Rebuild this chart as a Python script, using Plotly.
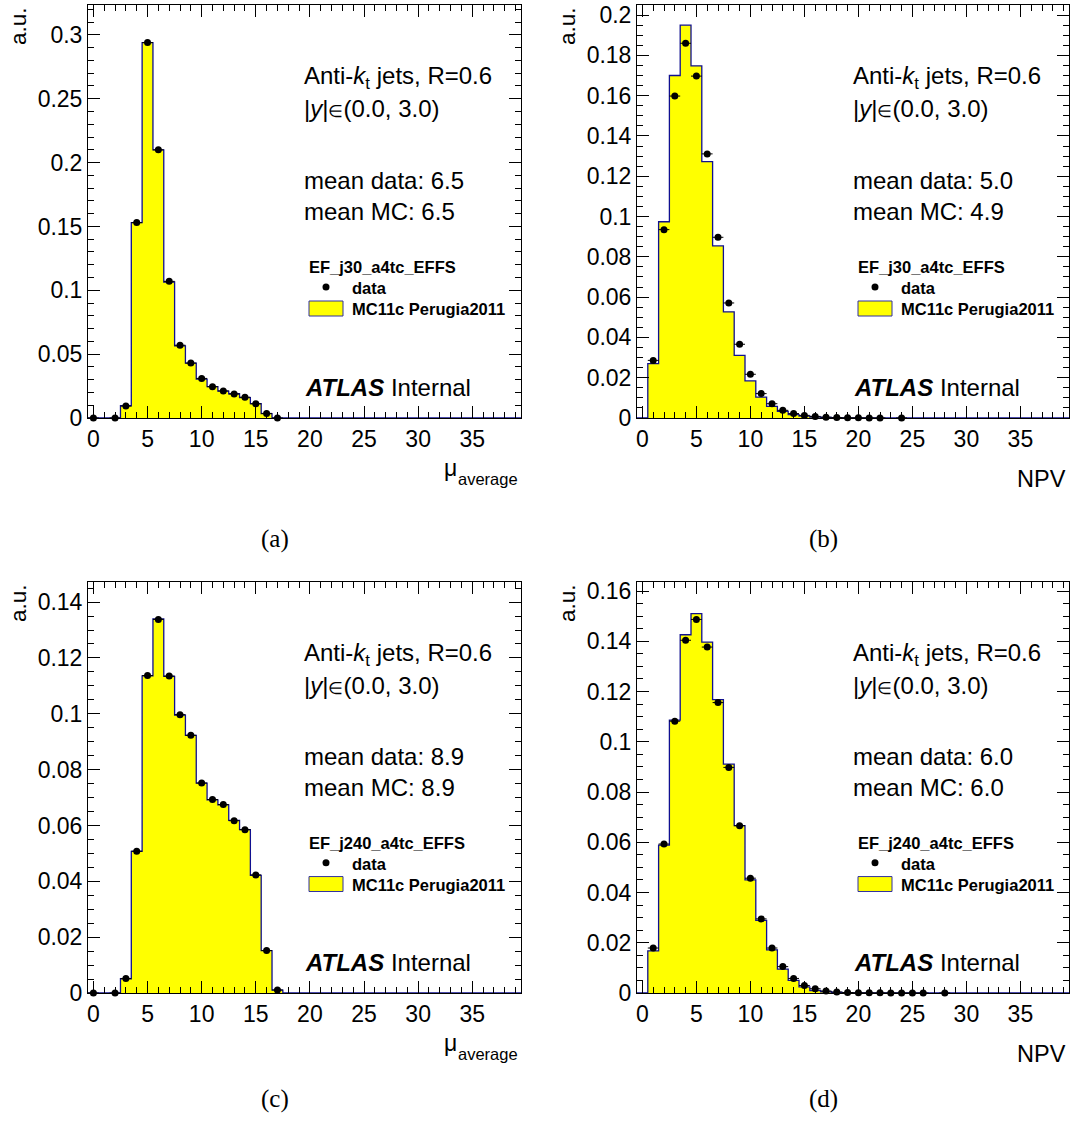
import plotly.graph_objects as go

# ---------------- data (bin centres 0..39, width 1) ----------------
bin_centers = list(range(40))

mc_a = [0, 0, 0, 0.0096, 0.153, 0.294, 0.210, 0.1065, 0.0565, 0.043, 0.0305,
        0.0245, 0.021, 0.019, 0.016, 0.0112, 0.0035]
data_a = [0, None, 0, 0.0094, 0.153, 0.294, 0.210, 0.107, 0.057, 0.043, 0.031,
          0.0245, 0.0212, 0.0188, 0.0163, 0.0111, 0.0036, 0]

mc_b = [0, 0.027, 0.0974, 0.170, 0.195, 0.1748, 0.1273, 0.0854, 0.0527, 0.0311,
        0.0184, 0.0104, 0.0058, 0.0033, 0.0017, 0.0009, 0.0005, 0.0003, 0.0002,
        0.0001, 0.00005, 0.00003]
data_b = [None, 0.0286, 0.0935, 0.1598, 0.186, 0.1697, 0.1311, 0.0897, 0.0571,
          0.0366, 0.0217, 0.0121, 0.0071, 0.0038, 0.0022, 0.0013, 0.0008, 0.0004,
          0.0002, 0.0001, 0.0001, 0.00005, 0.00003, None, 0.00001]

mc_c = [0, 0, 0, 0.0051, 0.0507, 0.1136, 0.134, 0.1134, 0.0995, 0.0923, 0.0752,
        0.0692, 0.0674, 0.0618, 0.0585, 0.0421, 0.0152, 0.001]
data_c = [0, None, 0, 0.0052, 0.0508, 0.1137, 0.1338, 0.1135, 0.0997, 0.0923,
          0.0752, 0.0693, 0.0675, 0.0617, 0.0585, 0.0423, 0.0152, 0.0011]

mc_d = [0, 0.0168, 0.0589, 0.1086, 0.1426, 0.151, 0.1397, 0.1168, 0.0911, 0.0666,
        0.045, 0.0289, 0.0172, 0.0095, 0.005, 0.0024, 0.001, 0.0005, 0.0002,
        0.0001, 0.00005]
data_d = [None, 0.0179, 0.0593, 0.1082, 0.1404, 0.1487, 0.1377, 0.1156, 0.0898,
          0.0666, 0.0457, 0.0295, 0.0179, 0.0105, 0.0058, 0.003, 0.0017, 0.0008,
          0.0004, 0.0002, 0.0001, 0.00008, 0.00005, 0.00003, 0.00002, 0.00001,
          0.00001, None, 0.00001]

triggers = ["EF_j30_a4tc_EFFS", "EF_j30_a4tc_EFFS", "EF_j240_a4tc_EFFS", "EF_j240_a4tc_EFFS"]
mean_data = ["6.5", "5.0", "8.9", "6.0"]
mean_mc = ["6.5", "4.9", "8.9", "6.0"]
x_titles = ["mu", "NPV", "mu", "NPV"]
panel_tags = ["(a)", "(b)", "(c)", "(d)"]
y_ranges = [0.3234, 0.2050, 0.1472, 0.1636]
y_dticks = [0.05, 0.02, 0.02, 0.02]
y_minor = [0.01, 0.005, 0.005, 0.005]

mc_all = [mc_a, mc_b, mc_c, mc_d]
data_all = [data_a, data_b, data_c, data_d]

# ---------------- layout geometry (pixels) ----------------
W, H = 1072, 1129
frames = [(88, 521, 5, 418), (637, 1069, 5, 418),
          (88, 521, 582, 993), (637, 1069, 582, 993)]
tag_pos = [(274.5, 539), (823.5, 539), (274.5, 1099), (823.5, 1099)]

SANS = "Liberation Sans, Arial, Helvetica, sans-serif"
SERIF = "Liberation Serif, Times New Roman, serif"
YELLOW = "#ffff00"
NAVY = "#101090"


def px(x):
    return x / W


def py(y):
    return 1 - y / H


fig = go.Figure()
annotations = []
shapes = []


def add_text(x, baseline, text, size, xanchor="left", family=SANS, color="black"):
    top = baseline - 0.905 * size - 1
    annotations.append(dict(x=px(x), y=py(top), xref="paper", yref="paper",
                            text=text, showarrow=False, xanchor=xanchor, yanchor="top",
                            font=dict(family=family, size=size, color=color)))


edges = [c - 0.5 for c in bin_centers] + [bin_centers[-1] + 0.5]

for i in range(4):
    fl, fr, ft, fb = frames[i]
    hgt = fb - ft
    sfx = "" if i == 0 else str(i + 1)
    xa, ya = "x" + sfx, "y" + sfx

    mc = mc_all[i] + [0] * (40 - len(mc_all[i]))
    fig.add_trace(go.Scatter(x=edges, y=mc + [mc[-1]], mode="lines",
                             line=dict(shape="hv", color=NAVY, width=1.3),
                             fill="tozeroy", fillcolor=YELLOW, xaxis=xa, yaxis=ya,
                             showlegend=False, hoverinfo="skip"))
    dx = [bin_centers[k] for k, v in enumerate(data_all[i]) if v is not None]
    dy = [v for v in data_all[i] if v is not None]
    fig.add_trace(go.Scatter(x=dx, y=dy, mode="markers",
                             marker=dict(color="black", size=7),
                             error_x=dict(type="constant", value=0.5, thickness=1,
                                          width=0, color="black"),
                             cliponaxis=False, xaxis=xa, yaxis=ya, showlegend=False))

    fig.layout["xaxis" + sfx] = dict(
        domain=[px(fl), px(fr)], anchor=ya, range=[-0.5, 39.5], dtick=5,
        minor=dict(ticks="inside", ticklen=6, dtick=1, tickcolor="black",
                   tickwidth=1, showgrid=False))
    fig.layout["yaxis" + sfx] = dict(
        domain=[py(fb), py(ft)], anchor=xa, range=[0, y_ranges[i]],
        dtick=y_dticks[i],
        minor=dict(ticks="inside", ticklen=6, dtick=y_minor[i], tickcolor="black",
                   tickwidth=1, showgrid=False))

    def ry(frac):
        return ft + frac * hgt

    tx = fl + 214
    add_text(tx, ry(78 / 413), "Anti-<i>k</i><sub>t</sub> jets, R=0.6", 24)
    add_text(tx, ry(111 / 413),
             "|<i>y</i>|<span style='font-size:17px'>∈</span>(0.0, 3.0)", 24)
    add_text(tx, ry(183 / 413), "mean data: " + mean_data[i], 24)
    add_text(tx, ry(214 / 413), "mean MC: " + mean_mc[i], 24)
    add_text(fl + 219, ry(267 / 413), "<b>" + triggers[i] + "</b>", 16.5)
    add_text(fl + 262, ry(288 / 413), "<b>data</b>", 16.5)
    add_text(fl + 262, ry(309 / 413), "<b>MC11c Perugia2011</b>", 16.5)
    add_text(fl + 215, ry(390 / 413), "<b><i>ATLAS</i></b> Internal", 24)

    # legend marker and box
    cx, cy = fl + 238, ry(282 / 413)
    shapes.append(dict(type="circle", xref="paper", yref="paper",
                       x0=px(cx - 3.5), x1=px(cx + 3.5), y0=py(cy + 3.5), y1=py(cy - 3.5),
                       fillcolor="black", line=dict(color="black", width=0)))
    shapes.append(dict(type="rect", xref="paper", yref="paper",
                       x0=px(fl + 221), x1=px(fl + 255), y0=py(ry(311 / 413)), y1=py(ry(296 / 413)),
                       fillcolor=YELLOW, line=dict(color="#3030a0", width=1)))

    # y axis title
    annotations.append(dict(x=px(fl - 70), y=py(ft), xref="paper", yref="paper",
                            text="a.u.", textangle=-90, showarrow=False,
                            xanchor="center", yanchor="top",
                            font=dict(family=SANS, size=22.5, color="black")))
    # x axis title
    if x_titles[i] == "mu":
        add_text(fr - 1, fb + 66, "average", 16.5, xanchor="right")
        add_text(fr - 62, fb + 57, "μ", 23, xanchor="right")
    else:
        add_text(fr - 1, fb + 68, "NPV", 23.5, xanchor="right")

    # sub-figure tag
    tx2, ty2 = tag_pos[i]
    annotations.append(dict(x=px(tx2), y=py(ty2), xref="paper", yref="paper",
                            text=panel_tags[i], showarrow=False,
                            xanchor="center", yanchor="middle",
                            font=dict(family=SERIF, size=25, color="black")))

axis_style = dict(showline=True, linecolor="black", linewidth=1, mirror="ticks",
                  ticks="inside", ticklen=12, tickcolor="black", tickwidth=1,
                  showgrid=False, zeroline=False,
                  tickfont=dict(family=SANS, size=23, color="black"))
fig.update_xaxes(**axis_style)
fig.update_yaxes(**axis_style)

fig.update_layout(template="none", width=W, height=H, autosize=False,
                  margin=dict(l=0, r=0, t=0, b=0),
                  paper_bgcolor="white", plot_bgcolor="white",
                  font=dict(family=SANS, color="black"),
                  showlegend=False, annotations=annotations, shapes=shapes)

fig.write_html("out.html")
